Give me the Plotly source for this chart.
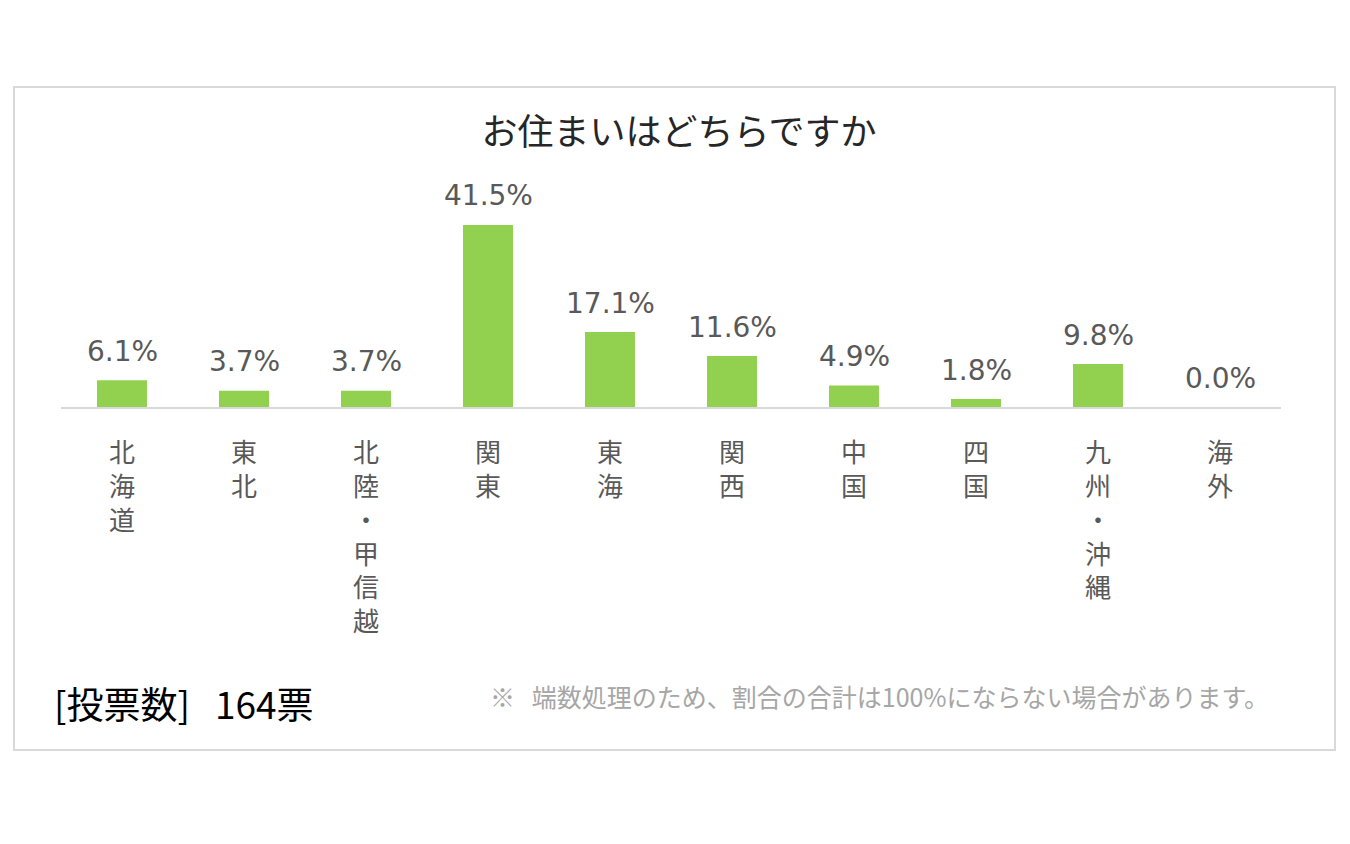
import plotly.graph_objects as go

categories = ["北海道", "東北", "北陸・甲信越", "関東", "東海", "関西", "中国", "四国", "九州・沖縄", "海外"]
values = [6.1, 3.7, 3.7, 41.5, 17.1, 11.6, 4.9, 1.8, 9.8, 0.0]
tick_labels = ["北<br>海<br>道", "東<br>北", "北<br>陸<br>・<br>甲<br>信<br>越", "関<br>東", "東<br>海",
               "関<br>西", "中<br>国", "四<br>国", "九<br>州<br>・<br>沖<br>縄", "海<br>外"]
title_text = "お住まいはどちらですか"
votes_text = "[投票数]&nbsp;&nbsp;&nbsp;164票"
note_text = "※&nbsp;&nbsp;&nbsp;端数処理のため、割合の合計は100%にならない場合があります。"

OFF = 8  # page body margin
W, H = 1350 - OFF, 844 - OFF
L, R, T, B = 61 - OFF, 1281 - OFF, 180 - OFF, 407 - OFF  # plot area in pixels


def px(x):
    return (x - OFF - L) / (R - L)


def py(y):
    return (B - (y - OFF)) / (B - T)


CJK = "Noto Sans CJK JP"
LAT = "DejaVu Sans"

fig = go.Figure()
fig.add_trace(go.Bar(
    x=categories,
    y=values,
    marker=dict(color="#92d050", line=dict(width=0)),
    width=0.41,
    hoverinfo="skip",
))

label_annotations = [
    dict(x=c, y=v, xref="x", yref="y", text=f"{v:.1f}%", showarrow=False,
         xanchor="center", yanchor="middle", yshift=29,
         font=dict(family=LAT, size=28, color="#595959"))
    for c, v in zip(categories, values)
]

fig.update_layout(
    width=W, height=H,
    margin=dict(l=L, r=W - R, t=T, b=H - B, pad=0),
    paper_bgcolor="white", plot_bgcolor="white",
    showlegend=False,
    title=dict(text=title_text, x=0.5, xref="container", xanchor="center",
               y=1 - (132 - OFF) / H, yref="container", yanchor="middle",
               font=dict(family=CJK, size=36, color="#262626")),
    xaxis=dict(
        type="category",
        tickmode="array", tickvals=categories, ticktext=tick_labels,
        showline=True, linecolor="#d9d9d9", linewidth=2,
        showgrid=False, zeroline=False,
        ticks="outside", ticklen=22, tickcolor="rgba(0,0,0,0)",
        tickfont=dict(family=CJK, size=26, color="#595959"),
        tickangle=0,
        range=[-0.5, len(categories) - 0.5],
    ),
    yaxis=dict(visible=False, range=[0, (B - T) / 4.386], showgrid=False, zeroline=False),
    shapes=[
        dict(type="rect", xref="paper", yref="paper",
             x0=px(14), x1=px(1335), y0=py(750), y1=py(87),
             line=dict(color="#d9d9d9", width=2), fillcolor="rgba(0,0,0,0)", layer="below"),
    ],
    annotations=label_annotations + [
        dict(text=votes_text, xref="paper", yref="paper", x=px(52), y=py(703),
             xanchor="left", yanchor="middle", showarrow=False,
             font=dict(family=CJK, size=37, color="#000000")),
        dict(text=note_text, xref="paper", yref="paper", x=px(879), y=py(696),
             xanchor="center", yanchor="middle", showarrow=False,
             font=dict(family=CJK, size=25, color="#a6a6a6")),
    ],
)

fig.write_html("out.html")
